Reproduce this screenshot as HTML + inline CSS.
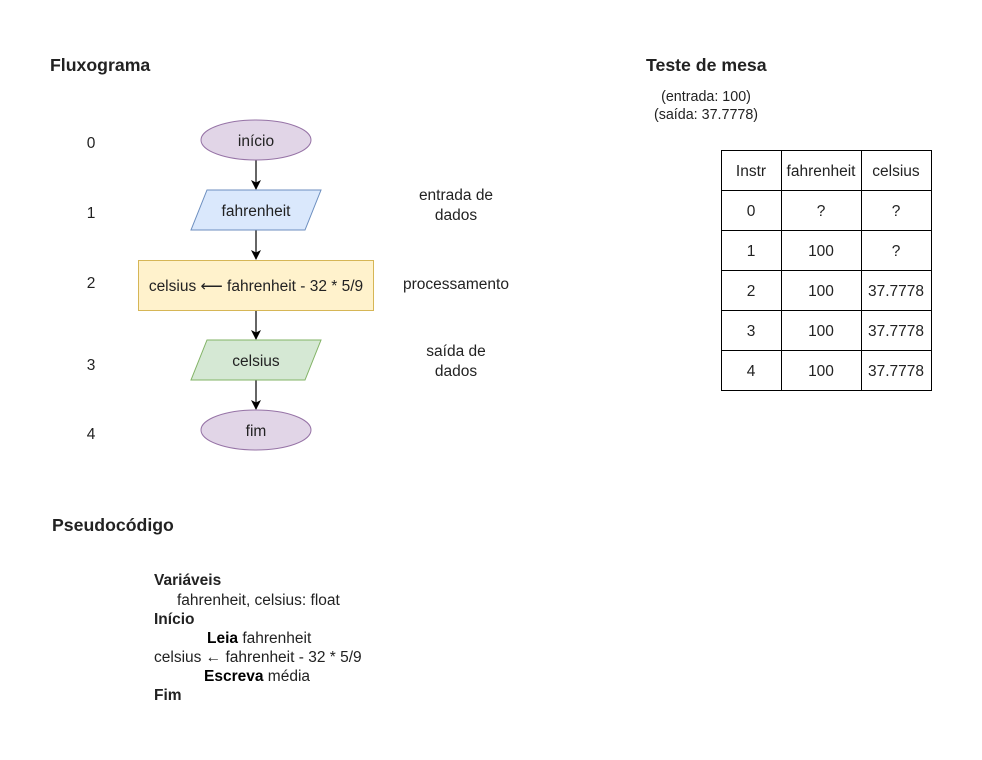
<!DOCTYPE html>
<html><head><meta charset="utf-8"><style>
body{margin:0;background:#fff}
svg text{font-family:"Liberation Sans",Arial,Helvetica,sans-serif;fill:#222}
</style></head><body>
<svg width="982" height="755" xmlns="http://www.w3.org/2000/svg" font-size="15.5">
<defs><marker id="a" markerWidth="10" markerHeight="10" refX="9" refY="5" orient="auto" markerUnits="userSpaceOnUse"><path d="M0,0 L10,5 L0,10 L2.5,5z" fill="#000"/></marker></defs>
<text x="50" y="71" font-size="17.7" font-weight="bold" fill="#000">Fluxograma</text>
<text x="646" y="71" font-size="17.7" font-weight="bold" fill="#000">Teste de mesa</text>
<text x="52" y="531" font-size="17.7" font-weight="bold" fill="#000">Pseudocódigo</text>
<text x="706" y="101" font-size="14.3" text-anchor="middle">(entrada: 100)</text>
<text x="706" y="119" font-size="14.3" text-anchor="middle">(saída: 37.7778)</text>
<g text-anchor="middle">
<text x="91" y="148">0</text><text x="91" y="218">1</text><text x="91" y="288">2</text><text x="91" y="370">3</text><text x="91" y="439">4</text>
<text x="456" y="200">entrada de</text><text x="456" y="220">dados</text>
<text x="456" y="289">processamento</text>
<text x="456" y="356">saída de</text><text x="456" y="376">dados</text>
</g>
<g stroke="#000" stroke-width="1.2" marker-end="url(#a)">
<line x1="256" y1="160" x2="256" y2="189"/>
<line x1="256" y1="230" x2="256" y2="259"/>
<line x1="256" y1="310" x2="256" y2="339"/>
<line x1="256" y1="380" x2="256" y2="409"/>
</g>
<ellipse cx="256" cy="140" rx="55" ry="20" fill="#e1d5e7" stroke="#9673a6"/>
<polygon points="207,190 321,190 305,230 191,230" fill="#dae8fc" stroke="#6c8ebf"/>
<rect x="138.5" y="260.5" width="235" height="50" fill="#fff2cc" stroke="#d6b656"/>
<polygon points="207,340 321,340 305,380 191,380" fill="#d5e8d4" stroke="#82b366"/>
<ellipse cx="256" cy="430" rx="55" ry="20" fill="#e1d5e7" stroke="#9673a6"/>
<g text-anchor="middle">
<text x="256" y="146">início</text>
<text x="256" y="216">fahrenheit</text>
<text x="256" y="291">celsius ⟵ fahrenheit - 32 * 5/9</text>
<text x="256" y="366">celsius</text>
<text x="256" y="436">fim</text>
</g>
<g stroke="#000" stroke-width="1" fill="none">
<rect x="721.5" y="150.5" width="210" height="240"/>
<line x1="781.5" y1="150" x2="781.5" y2="390"/>
<line x1="861.5" y1="150" x2="861.5" y2="390"/>
<line x1="721" y1="190.5" x2="931" y2="190.5"/>
<line x1="721" y1="230.5" x2="931" y2="230.5"/>
<line x1="721" y1="270.5" x2="931" y2="270.5"/>
<line x1="721" y1="310.5" x2="931" y2="310.5"/>
<line x1="721" y1="350.5" x2="931" y2="350.5"/>
</g>
<g text-anchor="middle">
<text x="751" y="176">Instr</text><text x="821" y="176">fahrenheit</text><text x="896" y="176">celsius</text>
<text x="751" y="216">0</text><text x="821" y="216">?</text><text x="896" y="216">?</text>
<text x="751" y="256">1</text><text x="821" y="256">100</text><text x="896" y="256">?</text>
<text x="751" y="296">2</text><text x="821" y="296">100</text><text x="896" y="296">37.7778</text>
<text x="751" y="336">3</text><text x="821" y="336">100</text><text x="896" y="336">37.7778</text>
<text x="751" y="376">4</text><text x="821" y="376">100</text><text x="896" y="376">37.7778</text>
</g>
<g>
<text x="154" y="585" font-weight="bold" fill="#000">Variáveis</text>
<text x="177" y="605">fahrenheit, celsius: float</text>
<text x="154" y="624" font-weight="bold" fill="#000">Início</text>
<text x="207" y="643"><tspan font-weight="bold" fill="#000">Leia</tspan> fahrenheit</text>
<text x="154" y="662">celsius ← fahrenheit - 32 * 5/9</text>
<text x="204" y="681"><tspan font-weight="bold" fill="#000">Escreva</tspan>  média</text>
<text x="154" y="700" font-weight="bold" fill="#000">Fim</text>
</g>
</svg>
</body></html>
